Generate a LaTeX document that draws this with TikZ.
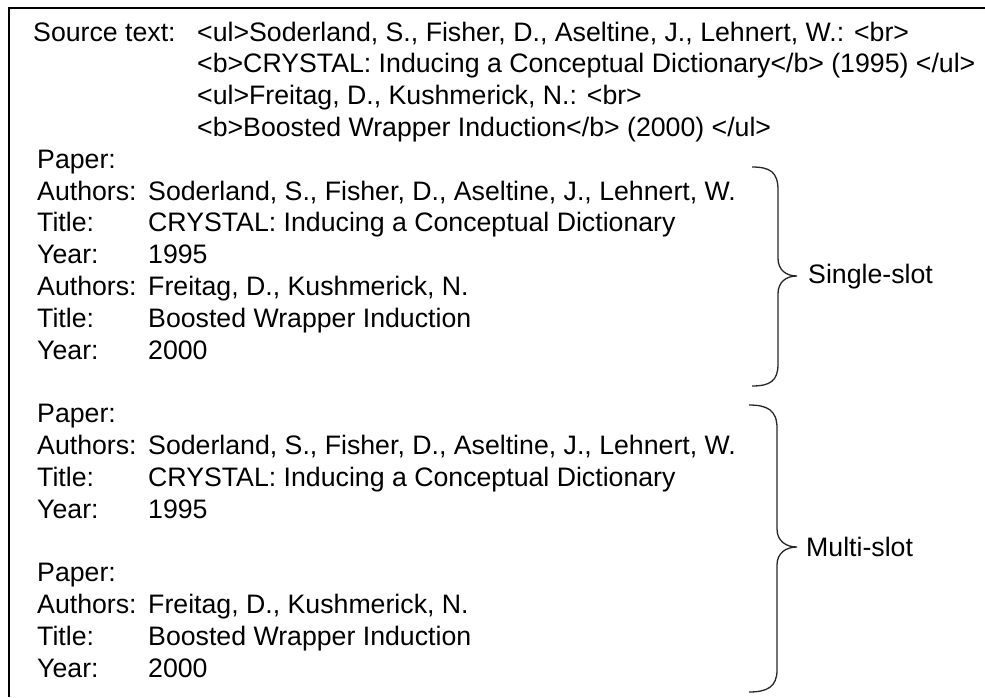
\documentclass[tikz,border=0pt]{standalone}
\usepackage{fontspec}
\setmainfont{Liberation Sans}
\begin{document}
\begin{tikzpicture}[x=1pt,y=-1pt,
  txt/.style={anchor=base west,inner sep=0pt,font=\fontsize{26.7}{31.8}\selectfont},
  bracepath/.style={draw=black!85,line width=1.3pt},
  frameline/.style={draw=black,line width=2.2pt}]
\useasboundingbox (0,0) rectangle (985,697);
% outer frame (open to the right and bottom)
\draw[frameline] (9,697) -- (9,8) -- (985,8);

% columns and row positions
\def\lbl{37}
\def\val{148}
\def\srcx{197}
% baseline of row n is 41 + 31.8 n
\newcommand{\rowy}[1]{\fpeval{41+31.8*#1}}

% source text
\node[txt] (src) at (33,{\rowy{0}}) {Source text:};
\node[txt] (s1) at (\srcx,{\rowy{0}}) {<ul>Soderland, S., Fisher, D., Aseltine, J., Lehnert, W.: <br>};
\node[txt] (s2) at (\srcx,{\rowy{1}}) {<b>CRYSTAL: Inducing a Conceptual Dictionary</b> (1995) </ul>};
\node[txt] (s3) at (\srcx,{\rowy{2}}) {<ul>Freitag, D., Kushmerick, N.: <br>};
\node[txt] (s4) at (\srcx,{\rowy{3}}) {<b>Boosted Wrapper Induction</b> (2000) </ul>};

% single-slot extraction
\node[txt] (p1) at (\lbl,{\rowy{4}}) {Paper:};
\node[txt] (a1) at (\lbl,{\rowy{5}}) {Authors:};
\node[txt] (a1v) at (\val,{\rowy{5}}) {Soderland, S., Fisher, D., Aseltine, J., Lehnert, W.};
\node[txt] (t1) at (\lbl,{\rowy{6}}) {Title:};
\node[txt] (t1v) at (\val,{\rowy{6}}) {CRYSTAL: Inducing a Conceptual Dictionary};
\node[txt] (y1) at (\lbl,{\rowy{7}}) {Year:};
\node[txt] (y1v) at (\val,{\rowy{7}}) {1995};
\node[txt] (a2) at (\lbl,{\rowy{8}}) {Authors:};
\node[txt] (a2v) at (\val,{\rowy{8}}) {Freitag, D., Kushmerick, N.};
\node[txt] (t2) at (\lbl,{\rowy{9}}) {Title:};
\node[txt] (t2v) at (\val,{\rowy{9}}) {Boosted Wrapper Induction};
\node[txt] (y2) at (\lbl,{\rowy{10}}) {Year:};
\node[txt] (y2v) at (\val,{\rowy{10}}) {2000};

% multi-slot extraction
\node[txt] (p2) at (\lbl,{\rowy{12}}) {Paper:};
\node[txt] (a3) at (\lbl,{\rowy{13}}) {Authors:};
\node[txt] (a3v) at (\val,{\rowy{13}}) {Soderland, S., Fisher, D., Aseltine, J., Lehnert, W.};
\node[txt] (t3) at (\lbl,{\rowy{14}}) {Title:};
\node[txt] (t3v) at (\val,{\rowy{14}}) {CRYSTAL: Inducing a Conceptual Dictionary};
\node[txt] (y3) at (\lbl,{\rowy{15}}) {Year:};
\node[txt] (y3v) at (\val,{\rowy{15}}) {1995};
\node[txt] (p3) at (\lbl,{\rowy{17}}) {Paper:};
\node[txt] (a4) at (\lbl,{\rowy{18}}) {Authors:};
\node[txt] (a4v) at (\val,{\rowy{18}}) {Freitag, D., Kushmerick, N.};
\node[txt] (t4) at (\lbl,{\rowy{19}}) {Title:};
\node[txt] (t4v) at (\val,{\rowy{19}}) {Boosted Wrapper Induction};
\node[txt] (y4) at (\lbl,{\rowy{20}}) {Year:};
\node[txt] (y4v) at (\val,{\rowy{20}}) {2000};

% braces
\draw[bracepath] (752,167) .. controls (770,167) and (778,172) .. (778,190)
  -- (778,258) .. controls (778,270) and (786,276) .. (797,276)
  .. controls (786,276) and (778,282) .. (778,294)
  -- (778,364) .. controls (778,381) and (770,386) .. (752,386);
\node[txt] (single) at (808,283) {Single-slot};

\draw[bracepath] (749,405) .. controls (767,405) and (777,410) .. (777,428)
  -- (777,529) .. controls (777,541) and (786,547) .. (797,547)
  .. controls (786,547) and (777,553) .. (777,565)
  -- (777,670) .. controls (777,687) and (767,692) .. (749,692);
\node[txt] (multi) at (806,556) {Multi-slot};
\end{tikzpicture}
\end{document}
